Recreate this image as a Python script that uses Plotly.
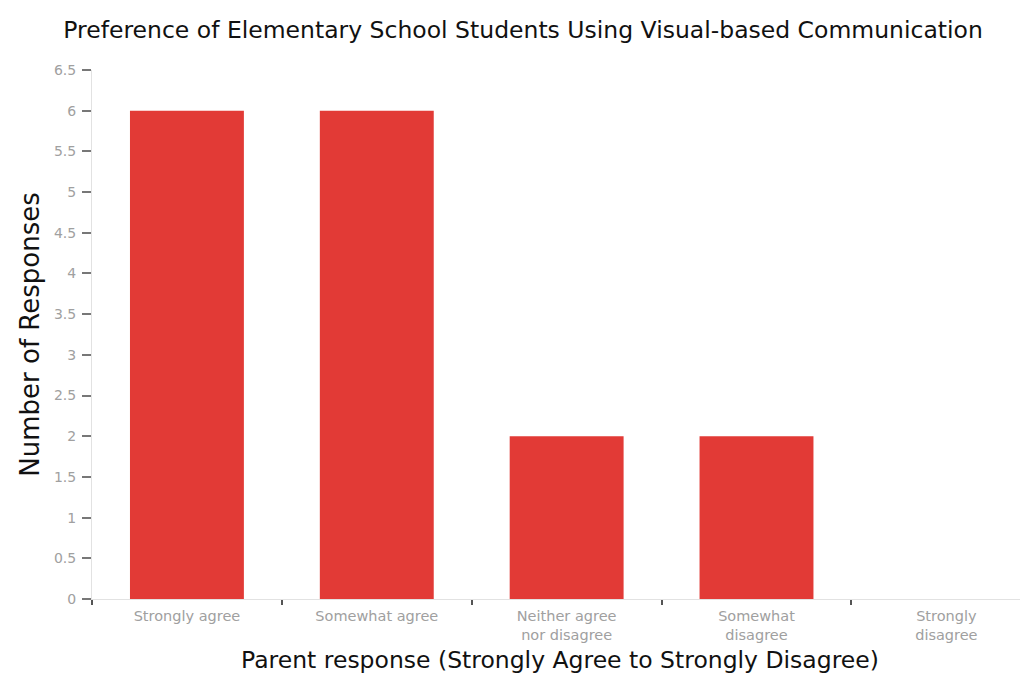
import plotly.graph_objects as go

categories = ["Strongly agree", "Somewhat agree", "Neither agree<br>nor disagree",
              "Somewhat<br>disagree", "Strongly<br>disagree"]
responses = [6, 6, 2, 2, 0]
y_ticks = [0, 0.5, 1, 1.5, 2, 2.5, 3, 3.5, 4, 4.5, 5, 5.5, 6, 6.5]

fig = go.Figure(go.Bar(x=categories, y=responses,
                       marker=dict(color="#e23a36", line=dict(width=0))))

fig.update_layout(
    width=1020, height=671,
    margin=dict(l=84, r=0, t=62, b=80),
    paper_bgcolor="white", plot_bgcolor="white",
    bargap=0.4,
    showlegend=False,
    title=dict(text="Preference of Elementary School Students Using Visual-based Communication",
               x=0.505, xanchor="center", y=0.967, yanchor="middle",
               font=dict(family="DejaVu Sans", size=23.5, color="#111")),
    font=dict(family="DejaVu Sans"),
)
fig.update_xaxes(
    type="category",
    range=[-0.5, 4.43],
    tickson="boundaries", ticks="outside", ticklen=5, tickwidth=2, tickcolor="#555",
    tickfont=dict(family="DejaVu Sans", size=14.5, color="#a0a0a0"),
    ticklabelstandoff=4,
    showline=True, linecolor="#e2e2e2", linewidth=1,
    showgrid=False, zeroline=False,
    title=dict(text="Parent response (Strongly Agree to Strongly Disagree)",
               font=dict(family="DejaVu Sans", size=23.5, color="#111"), standoff=9),
)
fig.update_yaxes(
    range=[0, 6.5],
    tickmode="array", tickvals=y_ticks,
    ticks="outside", ticklen=9, tickwidth=2, tickcolor="#777",
    tickfont=dict(family="DejaVu Sans", size=14, color="#a0a0a0"),
    ticklabelstandoff=3,
    showline=True, linecolor="#e2e2e2", linewidth=1,
    showgrid=False, zeroline=False,
    title=dict(text="Number of Responses", font=dict(family="DejaVu Sans", size=26, color="#111"), standoff=6),
)

fig.write_html("out.html")
